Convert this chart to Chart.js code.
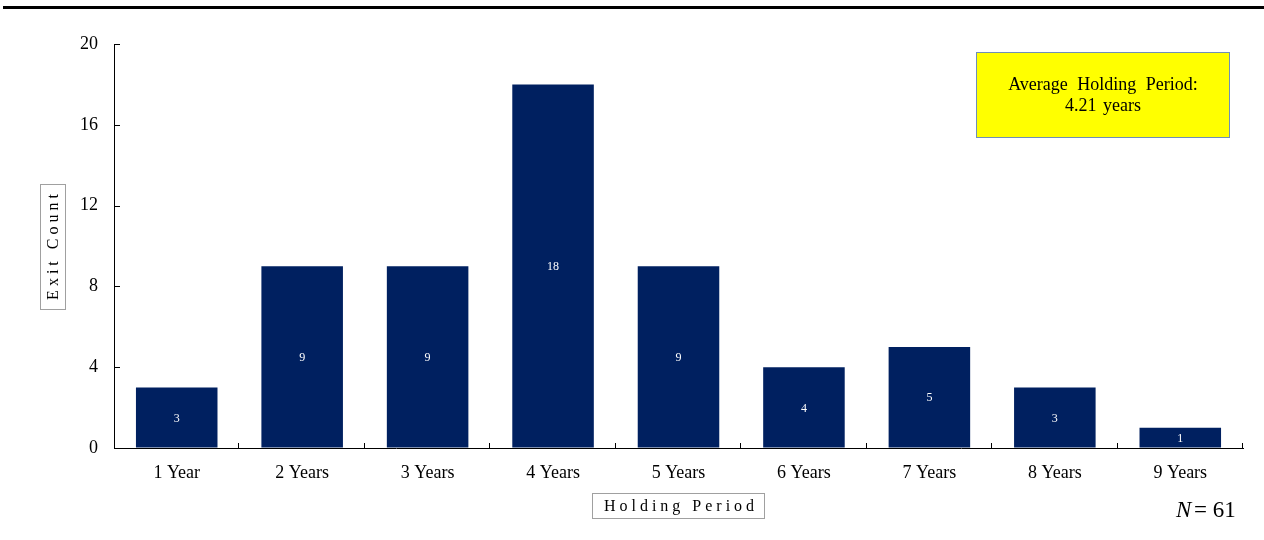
<!DOCTYPE html>
<html>
<head>
<meta charset="utf-8">
<script src="https://cdn.jsdelivr.net/npm/chart.js@4/dist/chart.umd.min.js"></script>
<style>
  body { margin: 0; background: #fff; }
  #wrap { width: 1264px; height: 540px; }
</style>
</head>
<body>
<div id="wrap"><canvas id="canvas" width="1264" height="540"></canvas></div>
<script>
// data
var categories = ['1 Year', '2 Years', '3 Years', '4 Years', '5 Years', '6 Years', '7 Years', '8 Years', '9 Years'];
var exitCounts = [3, 9, 9, 18, 9, 4, 5, 3, 1];
var yTicks = [0, 4, 8, 12, 16, 20];
var boxLines = ['Average Holding Period:', '4.21 years'];

var serif = '"Liberation Serif", "DejaVu Serif", serif';

// draws the rule on top, inward tick marks, boxed axis titles, note box and N
var decorations = {
  id: 'decorations',
  afterDraw: function(chart) {
    var ctx = chart.ctx;
    var area = chart.chartArea;
    var ys = chart.scales.y;
    ctx.save();
    // top rule
    ctx.fillStyle = '#000';
    ctx.fillRect(3, 6, 1261, 3);

    // tick marks pointing into the plot
    ctx.strokeStyle = '#000';
    ctx.lineWidth = 1;
    ctx.beginPath();
    yTicks.forEach(function(v) {
      var y = Math.round(ys.getPixelForValue(v)) + 0.5;
      ctx.moveTo(area.left, y);
      ctx.lineTo(area.left + 6, y);
    });
    var step = (area.right - area.left) / categories.length;
    for (var i = 1; i <= categories.length; i++) {
      var x = Math.round(area.left + i * step) - 0.5;
      ctx.moveTo(x, area.bottom);
      ctx.lineTo(x, area.bottom - 5);
    }
    ctx.stroke();

    // yellow note box
    ctx.fillStyle = '#ffff00';
    ctx.fillRect(976, 52, 253, 85);
    ctx.strokeStyle = '#6f8fb8';
    ctx.strokeRect(976.5, 52.5, 253, 85);
    ctx.fillStyle = '#000';
    ctx.font = '18px ' + serif;
    ctx.textAlign = 'center';
    ctx.textBaseline = 'middle';
    ctx.wordSpacing = '5px';
    ctx.fillText(boxLines[0], 1103, 85);
    ctx.wordSpacing = '2px';
    ctx.fillText(boxLines[1], 1103, 106);
    ctx.wordSpacing = '0px';

    // x title
    ctx.font = '16px ' + serif;
    ctx.letterSpacing = '4px';
    ctx.fillText('Holding Period', 681, 507);
    ctx.letterSpacing = '0px';
    ctx.strokeStyle = '#a0a0a0';
    ctx.strokeRect(592.5, 493.5, 172, 25);

    // y title, rotated
    ctx.save();
    ctx.translate(53, 247);
    ctx.rotate(-Math.PI / 2);
    ctx.letterSpacing = '4px';
    ctx.fillText('Exit Count', 2, 1);
    ctx.letterSpacing = '0px';
    ctx.restore();
    ctx.strokeRect(40.5, 184.5, 25, 125);

    // N = 61
    ctx.textAlign = 'left';
    ctx.font = 'italic 23px ' + serif;
    ctx.fillText('N', 1176, 511);
    ctx.font = '23px ' + serif;
    ctx.fillText('= 61', 1194, 511);

    // value labels in the middle of each bar
    var meta = chart.getDatasetMeta(0);
    ctx.fillStyle = '#fff';
    ctx.font = '12px ' + serif;
    ctx.textAlign = 'center';
    meta.data.forEach(function(bar, i) {
      var p = bar.getProps(['x', 'y', 'base'], true);
      ctx.fillText(String(exitCounts[i]), p.x, (p.y + p.base) / 2 + 1);
    });
    ctx.restore();
  }
};

var ctxB = document.getElementById('canvas').getContext('2d');
var mychart = new Chart(ctxB, {
  type: 'bar',
  data: {
    labels: categories,
    datasets: [{
      label: 'Exit Count',
      data: exitCounts,
      backgroundColor: '#002060',
      borderWidth: 0,
      barPercentage: 0.65,
      categoryPercentage: 1
    }]
  },
  options: {
    responsive: false,
    animation: false,
    layout: { padding: { left: 0, top: 44, right: 21, bottom: 0 } },
    plugins: {
      legend: { display: false },
      tooltip: { enabled: false }
    },
    scales: {
      x: {
        offset: true,
        grid: { display: true, drawOnChartArea: false, drawTicks: false },
        border: { color: '#000', width: 1 },
        ticks: {
          color: '#000',
          font: { family: serif, size: 18 },
          padding: 14
        },
        afterFit: function(scale) { scale.height = 92; }
      },
      y: {
        min: 0,
        max: 20,
        afterBuildTicks: function(scale) {
          scale.ticks = yTicks.map(function(v) { return { value: v }; });
        },
        grid: { display: true, drawOnChartArea: false, drawTicks: false },
        border: { color: '#000', width: 1 },
        ticks: {
          color: '#000',
          font: { family: serif, size: 18 },
          padding: 16
        },
        afterFit: function(scale) { scale.width = 114; }
      }
    }
  },
  plugins: [decorations]
});
</script>
</body>
</html>
